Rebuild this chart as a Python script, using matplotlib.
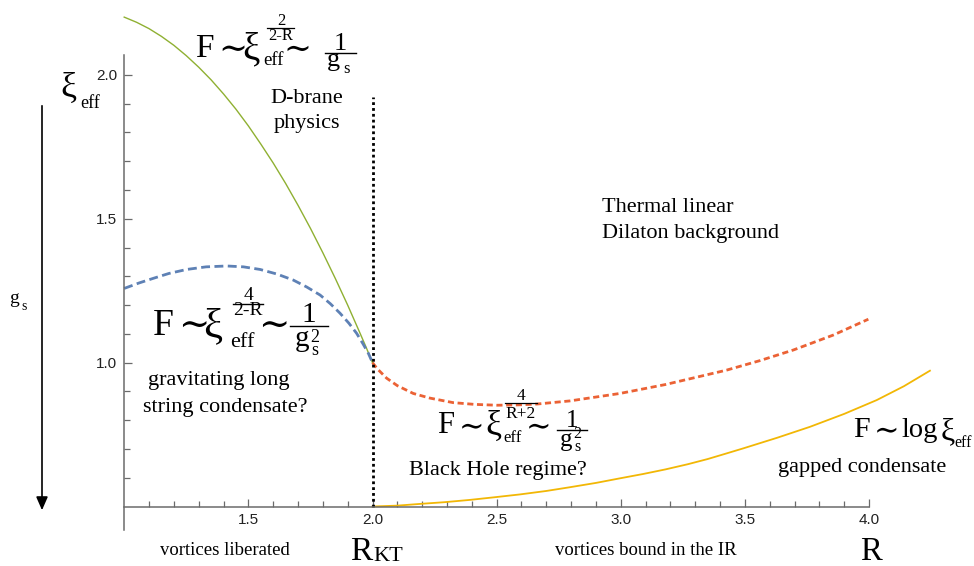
import matplotlib.pyplot as plt
from matplotlib.lines import Line2D
from matplotlib.patches import FancyArrowPatch

plt.rcParams['font.family'] = ['Liberation Serif', 'DejaVu Serif']

# curves (R, g_s)
green_r = [1.0, 1.05, 1.1, 1.15, 1.2, 1.25, 1.3, 1.35, 1.4, 1.45, 1.5, 1.55, 1.6, 1.65, 1.7,
           1.75, 1.8, 1.85, 1.9, 1.95, 1.975, 2.0]
green_g = [2.201, 2.183, 2.161, 2.134, 2.103, 2.067, 2.027, 1.983, 1.934, 1.881, 1.823, 1.760,
           1.694, 1.623, 1.547, 1.467, 1.382, 1.293, 1.200, 1.102, 1.052, 1.0]

blue_r = [1.0, 1.06, 1.117, 1.18, 1.252, 1.33, 1.413, 1.48, 1.547, 1.615, 1.681, 1.735, 1.789,
          1.83, 1.869, 1.905, 1.936, 1.96, 1.983, 2.0]
blue_g = [1.258, 1.277, 1.293, 1.310, 1.324, 1.333, 1.336, 1.333, 1.324, 1.308, 1.287, 1.263,
          1.235, 1.205, 1.172, 1.137, 1.102, 1.068, 1.033, 1.0]

orange_r = [2.0, 2.02, 2.057, 2.1, 2.164, 2.23, 2.325, 2.41, 2.5, 2.58, 2.661, 2.795, 2.997,
            3.18, 3.426, 3.56, 3.695, 3.856, 3.997]
orange_g = [1.0, 0.978, 0.946, 0.920, 0.893, 0.877, 0.861, 0.855, 0.852, 0.853, 0.856, 0.867,
            0.893, 0.924, 0.974, 1.007, 1.044, 1.096, 1.151]

yellow_r = [2.0, 2.1, 2.191, 2.29, 2.393, 2.49, 2.594, 2.7, 2.795, 2.9, 2.997, 3.09, 3.18, 3.27,
            3.35, 3.42, 3.493, 3.63, 3.762, 3.9, 4.031, 4.14, 4.245]
yellow_g = [0.5, 0.503, 0.509, 0.515, 0.523, 0.532, 0.542, 0.554, 0.567, 0.582, 0.598, 0.613,
            0.629, 0.647, 0.665, 0.683, 0.702, 0.739, 0.777, 0.822, 0.870, 0.918, 0.972]

r_kt = 2.0
kt_top = 1.924

x_major = [1.5, 2.0, 2.5, 3.0, 3.5, 4.0]
y_major = [1.0, 1.5, 2.0]

W, H = 974, 566
# pixel position of R=1 / g=0.5 and pixels per unit
X0, XS = 124.2, 248.3
Y0, YS = 506.5, 287.7

fig = plt.figure(figsize=(W / 100, H / 100), dpi=100)
ax = fig.add_axes([0, 0, 1, 1])
ax.set_xlim(1 - X0 / XS, 1 + (W - X0) / XS)
ax.set_ylim(0.5 - (H - Y0) / YS, 0.5 + Y0 / YS)
ax.patch.set_alpha(0)

ax.plot(green_r, green_g, color='#8fb032', lw=1.0)
ax.plot(blue_r, blue_g, color='#5e81b5', lw=2.0, dashes=(3.2, 1.6))
ax.plot(orange_r, orange_g, color='#eb6235', lw=2.0, dashes=(2.2, 1.3))
ax.plot(yellow_r, yellow_g, color='#f2b705', lw=1.3)
ax.plot([r_kt, r_kt], [0.5, kt_top], color='black', lw=2.0, dashes=(1, 1.1))

# axes, Mathematica style
for s in ['top', 'right']:
    ax.spines[s].set_visible(False)
ax.spines['left'].set_position(('data', 1.0))
ax.spines['bottom'].set_position(('data', 0.5))
ax.spines['left'].set_bounds(0.42, 2.07)
ax.spines['bottom'].set_bounds(1.0, 4.0)
for s in ['left', 'bottom']:
    ax.spines[s].set_color('#6b6b6b')
    ax.spines[s].set_linewidth(1.1)

ax.set_xticks(x_major)
ax.set_xticklabels([f'{v:.1f}' for v in x_major])
ax.set_xticks([v / 10 for v in range(11, 40) if v % 5], minor=True)
ax.set_yticks(y_major)
ax.set_yticklabels([f'{v:.1f}' for v in y_major])
ax.set_yticks([v / 10 for v in range(6, 20) if v % 5], minor=True)
ax.tick_params(which='both', direction='in', color='#6b6b6b', width=0.9,
               labelsize=11, labelcolor='#222222', pad=5)
ax.tick_params(which='major', length=6)
ax.tick_params(which='minor', length=4)
for lab in ax.get_xticklabels() + ax.get_yticklabels():
    lab.set_family('Liberation Sans')


def ptext(x, y, s, size, ha='left', family=None):
    # x, y in picture pixels, y = baseline
    kw = {'family': family} if family else {}
    fig.text(x / W, 1 - y / H, s, fontsize=size, ha=ha, va='baseline', **kw)


def tilde(x, y, size):
    ptext(x, y, '\u223c', size, family='DejaVu Serif')


def pbar(x1, x2, y, lw=1.0):
    fig.add_artist(Line2D([x1 / W, x2 / W], [1 - y / H, 1 - y / H],
                          transform=fig.transFigure, color='black', lw=lw))


# arrow for g_s
arr = FancyArrowPatch((42 / W, 1 - 103 / H), (42 / W, 1 - 513 / H), transform=fig.transFigure,
                      arrowstyle='-|>,head_length=8,head_width=3.5', color='black', lw=1.2)
fig.patches.append(arr)
ptext(60, 97, 'ξ', 26)
ptext(80, 108, 'eff', 13)
ptext(9, 303, 'g', 14)
ptext(21, 310, 's', 10)

# F ~ xi_eff^(2/(2-R)) ~ 1/g_s
ptext(195, 57, 'F', 24)
tilde(218, 59, 25)
ptext(242, 59, 'ξ', 28)
ptext(263, 65, 'eff', 13.5)
ptext(281, 25, '2', 12, 'center')
pbar(267, 294, 27.5, 0.9)
ptext(281, 39.5, '2-R', 12, 'center')
tilde(283, 59, 24)
ptext(340, 50, '1', 19, 'center')
pbar(325, 356, 53)
ptext(327, 66, 'g', 19)
ptext(343, 73, 's', 12)
ptext(307, 103, 'D-brane', 16, 'center')
ptext(307, 128, 'physics', 16, 'center')

ptext(602, 212, 'Thermal linear', 16)
ptext(602, 238, 'Dilaton background', 16)

# F ~ xi_eff^(4/(2-R)) ~ 1/g_s^2
ptext(153, 335, 'F', 27)
tilde(178, 337, 27)
ptext(203, 337, 'ξ', 31)
ptext(230, 347, 'eff', 16)
ptext(248, 300, '4', 14, 'center')
pbar(233, 263, 303.5)
ptext(248, 315, '2-R', 14, 'center')
tilde(258, 337, 27)
ptext(309, 322, '1', 21, 'center')
pbar(290, 328, 325.5)
ptext(295, 346, 'g', 21)
ptext(310, 341.5, '2', 13)
ptext(311, 355, 's', 13)
ptext(219, 385, 'gravitating long', 16, 'center')
ptext(225, 412, 'string condensate?', 16, 'center')

# F ~ xi_eff^(4/(R+2)) ~ 1/g_s^2
ptext(437, 433, 'F', 22)
tilde(459, 435, 22)
ptext(485, 435, 'ξ', 26)
ptext(503, 442, 'eff', 12)
ptext(521, 400, '4', 12.5, 'center')
pbar(505, 537, 403, 0.9)
ptext(521, 418, 'R+2', 12.5, 'center')
tilde(526, 435, 22)
ptext(572, 427, '1', 18, 'center')
pbar(557, 587, 430)
ptext(560, 446, 'g', 18)
ptext(573, 438, '2', 11.5)
ptext(574, 451, 's', 11.5)
ptext(409, 475, 'Black Hole regime?', 16)

# F ~ log xi_eff
ptext(853, 437, 'F', 21.5)
tilde(874, 439, 22)
ptext(901, 437, 'log', 20.5)
ptext(941, 439, 'ξ', 23)
ptext(954, 447, 'eff', 11.5)
ptext(778, 472, 'gapped condensate', 16)

ptext(160, 555, 'vortices liberated', 13.5)
ptext(555, 555, 'vortices bound in the IR', 13.5)
ptext(350, 560, 'R', 24)
ptext(373, 561, 'KT', 16)
ptext(860, 560, 'R', 23.5)

fig.savefig('out.png', dpi=100)
